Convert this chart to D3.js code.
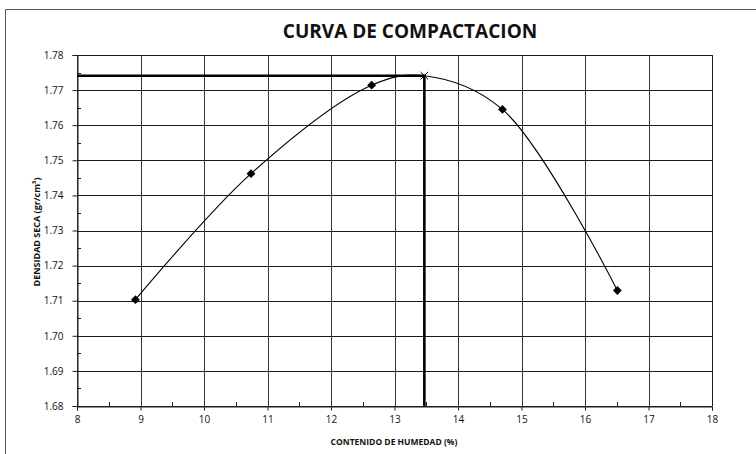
<!DOCTYPE html>
<html>
<head>
<meta charset="utf-8">
<script src="https://cdn.jsdelivr.net/npm/d3@7"></script>
<style>
  body { margin: 0; background: #fff; }
  svg { display: block; font-family: "Open Sans", sans-serif; }
</style>
</head>
<body>
<div id="chart"></div>
<script>
/* DATA */
const humedad = [8.92, 10.74, 12.64, 14.70, 16.51];
const densidad = [1.7103, 1.7462, 1.7714, 1.7645, 1.7129];
const maxHumedad = 13.47;
const maxDensidad = 1.7741;
const xTicks = [8, 9, 10, 11, 12, 13, 14, 15, 16, 17, 18];
const yTicks = [1.68, 1.69, 1.70, 1.71, 1.72, 1.73, 1.74, 1.75, 1.76, 1.77, 1.78];
const xMinor = [8.5, 9.5, 10.5, 11.5, 12.5, 13.5, 14.5, 15.5, 16.5, 17.5];
const yMinor = [1.685, 1.695, 1.705, 1.715, 1.725, 1.735, 1.745, 1.755, 1.765, 1.775];

/* CONSTANTS */
const width = 756,
  height = 454,
  margin = { top: 55, bottom: 48, left: 77, right: 44 };

const ink = "#1c1c1c";

const svg = d3.select("#chart")
  .append("svg")
  .attr("width", width)
  .attr("height", height);

// outer chart border (only top and left visible in the scan)
svg.append("path")
  .attr("d", `M5.5,${height}V9.5H${width}`)
  .attr("fill", "none")
  .attr("stroke", "#555")
  .attr("stroke-width", 1);

/* SCALES */
const xScale = d3.scaleLinear()
  .domain([8, 18])
  .range([margin.left, width - margin.right]);

const yScale = d3.scaleLinear()
  .domain([1.68, 1.78])
  .range([height - margin.bottom, margin.top]);

const x0 = xScale(8), x1 = xScale(18), y0 = yScale(1.68), y1 = yScale(1.78);

// GRIDLINES
svg.append("g")
  .selectAll("line.h")
  .data(yTicks)
  .join("line")
  .attr("x1", x0).attr("x2", x1)
  .attr("y1", d => Math.round(yScale(d)) + 0.5)
  .attr("y2", d => Math.round(yScale(d)) + 0.5)
  .attr("stroke", ink);

svg.append("g")
  .selectAll("line.v")
  .data(xTicks)
  .join("line")
  .attr("y1", y1).attr("y2", y0)
  .attr("x1", d => Math.round(xScale(d)) + 0.5)
  .attr("x2", d => Math.round(xScale(d)) + 0.5)
  .attr("stroke", "#333");

// minor ticks (inside)
svg.append("g")
  .selectAll("line")
  .data(yMinor)
  .join("line")
  .attr("x1", x0).attr("x2", x0 + 4)
  .attr("y1", d => Math.round(yScale(d)) + 0.5)
  .attr("y2", d => Math.round(yScale(d)) + 0.5)
  .attr("stroke", ink);

svg.append("g")
  .selectAll("line")
  .data(xMinor)
  .join("line")
  .attr("y1", y0).attr("y2", y0 - 4)
  .attr("x1", d => Math.round(xScale(d)) + 0.5)
  .attr("x2", d => Math.round(xScale(d)) + 0.5)
  .attr("stroke", ink);

/* AXES */
const xAxis = d3.axisBottom(xScale)
  .tickValues(xTicks)
  .tickFormat(d3.format("d"))
  .tickSize(4)
  .tickPadding(5);

const yAxis = d3.axisLeft(yScale)
  .tickValues(yTicks)
  .tickFormat(d3.format(".2f"))
  .tickSize(5)
  .tickPadding(9);

svg.append("g")
  .attr("transform", `translate(0, ${Math.round(y0) + 0.5})`)
  .call(xAxis)
  .call(g => g.selectAll("path, line").attr("stroke", ink))
  .call(g => g.selectAll("text")
    .attr("fill", "#111")
    .style("font-size", "10px")
    .style("font-family", "Open Sans"));

svg.append("g")
  .attr("transform", `translate(${Math.round(x0) + 0.5}, 0)`)
  .call(yAxis)
  .call(g => g.selectAll("path, line").attr("stroke", ink))
  .call(g => g.selectAll("text")
    .attr("fill", "#111")
    .style("font-size", "10px")
    .style("font-family", "Open Sans"));

// right and top border of plot
svg.append("path")
  .attr("d", `M${x0},${Math.round(y1) + 0.5}H${Math.round(x1) + 0.5}V${y0}`)
  .attr("fill", "none")
  .attr("stroke", ink);

/* MAX LINES */
svg.append("path")
  .attr("d", `M${x0},${yScale(maxDensidad)}H${xScale(maxHumedad)}V${y0}`)
  .attr("fill", "none")
  .attr("stroke", "#000")
  .attr("stroke-width", 2.6);

/* CURVE */
const pts = humedad.map((h, i) => ({ x: h, y: densidad[i] }))
  .concat([{ x: maxHumedad, y: maxDensidad }])
  .sort((a, b) => a.x - b.x);

const line = d3.line()
  .x(d => xScale(d.x))
  .y(d => yScale(d.y))
  .curve(d3.curveCatmullRom.alpha(0.5));

svg.append("path")
  .datum(pts)
  .attr("d", line)
  .attr("fill", "none")
  .attr("stroke", "#000")
  .attr("stroke-width", 1.1);

// diamond markers
svg.append("g")
  .selectAll("path")
  .data(humedad)
  .join("path")
  .attr("d", d3.symbol(d3.symbolDiamond2, 50))
  .attr("transform", (d, i) => `translate(${xScale(d)}, ${yScale(densidad[i])})`)
  .attr("fill", "#000");

// max cross marker
svg.append("path")
  .attr("d", d3.symbol(d3.symbolTimes, 40))
  .attr("transform", `translate(${xScale(maxHumedad)}, ${yScale(maxDensidad)})`)
  .attr("fill", "none")
  .attr("stroke", "#000")
  .attr("stroke-width", 1);

/* TITLES */
svg.append("text")
  .attr("x", 410)
  .attr("y", 38)
  .attr("text-anchor", "middle")
  .style("font-size", "19px")
  .style("font-weight", "bold")
  .attr("fill", "#111")
  .text("CURVA DE COMPACTACION");

svg.append("text")
  .attr("x", 394)
  .attr("y", 445)
  .attr("text-anchor", "middle")
  .style("font-size", "8.5px")
  .style("font-weight", "bold")
  .attr("fill", "#111")
  .text("CONTENIDO DE HUMEDAD (%)");

svg.append("text")
  .attr("transform", "translate(40, 232) rotate(-90)")
  .attr("text-anchor", "middle")
  .style("font-size", "9px")
  .style("font-weight", "bold")
  .attr("fill", "#111")
  .text("DENSIDAD SECA (gr/cm³)");
</script>
</body>
</html>
